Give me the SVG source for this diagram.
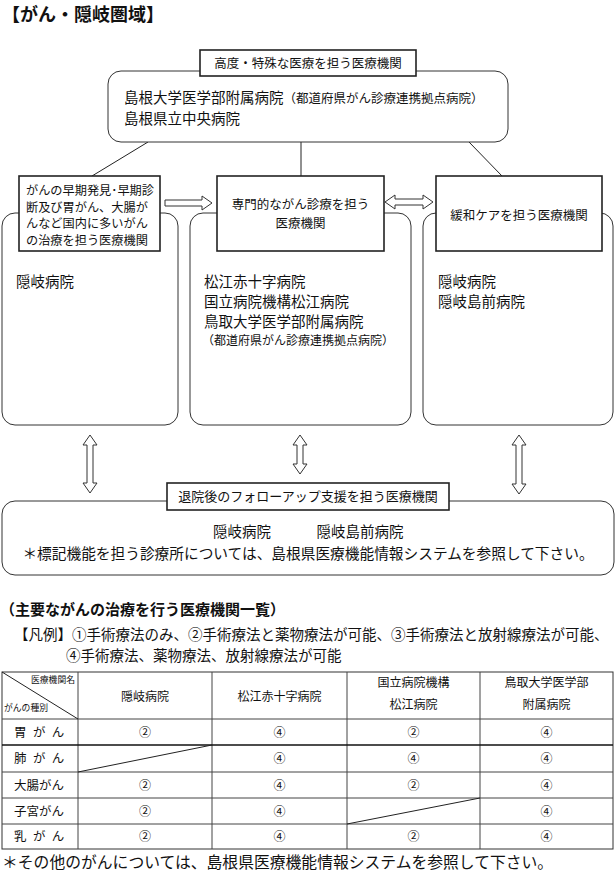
<svg xmlns="http://www.w3.org/2000/svg" width="616" height="872" viewBox="0 0 616 872">
<style>
text{font-family:"Noto Sans CJK JP","Noto Sans CJK SC",sans-serif;fill:#111}
.rr{fill:#fff;stroke:#333;stroke-width:1}
.lb{fill:#fff;stroke:#222;stroke-width:1.6}
.ln{stroke:#222;stroke-width:1;fill:none}
.ar{fill:#fff;stroke:#333;stroke-width:1}
.t14{font-size:14.5px}
.t12{font-size:12.5px}
.tb{font-size:12.2px}
.tc{font-size:12px;text-anchor:middle}
.tl{stroke:#444;stroke-width:1;fill:none}
</style>
<rect width="616" height="872" fill="#fff"/>
<text x="2" y="21" style="font-size:18px;font-weight:bold">【がん・隠岐圏域】</text>

<g id="connectors">
<line class="ln" x1="148" y1="142" x2="92" y2="176"/>
<line class="ln" x1="301" y1="142" x2="301" y2="176"/>
<line class="ln" x1="469" y1="142" x2="502" y2="176"/>
<polygon class="ar" points="165,200 202,200 202,196 212,203 202,210 202,206 165,206"/>
<polygon class="ar" points="385,202 395,195 395,199 423,199 423,195 433,202 423,209 423,205 395,205 395,209"/>
<polygon class="ar" points="90,435 97,445 93,445 93,483 97,483 90,493 83,483 87,483 87,445 83,445"/>
<polygon class="ar" points="300,435 307,445 303,445 303,464 307,464 300,474 293,464 297,464 297,445 293,445"/>
<polygon class="ar" points="519,435 526,445 522,445 522,484 526,484 519,494 512,484 516,484 516,445 512,445"/>
</g>

<g id="node-top">
<rect class="rr" x="108" y="71" width="400" height="71" rx="13"/>
<rect class="lb" x="200" y="50" width="216" height="26"/>
<text x="308" y="67.5" class="t12" text-anchor="middle">高度・特殊な医療を担う医療機関</text>
<text x="124" y="103" class="t14">島根大学医学部附属病院<tspan style="font-size:12.5px">（都道府県がん診療連携拠点病院）</tspan></text>
<text x="124" y="124" class="t14">島根県立中央病院</text>
</g>

<g id="node-left">
<rect class="rr" x="2" y="213" width="176" height="212" rx="13"/>
<rect class="lb" x="19" y="176" width="141" height="75"/>
<text x="26" y="195" class="tb">がんの早期発見･早期診</text>
<text x="26" y="211.5" class="tb">断及び胃がん、大腸が</text>
<text x="26" y="228" class="tb">んなど国内に多いがん</text>
<text x="26" y="244.5" class="tb">の治療を担う医療機関</text>
<text x="16" y="287" class="t14">隠岐病院</text>
</g>

<g id="node-center">
<rect class="rr" x="190" y="213" width="221" height="212" rx="13"/>
<rect class="lb" x="217" y="176" width="167" height="75"/>
<text x="300.5" y="209" class="t12" text-anchor="middle">専門的ながん診療を担う</text>
<text x="300.5" y="227.5" class="t12" text-anchor="middle">医療機関</text>
<text x="204" y="287" class="t14">松江赤十字病院</text>
<text x="204" y="307" class="t14">国立病院機構松江病院</text>
<text x="204" y="327" class="t14">鳥取大学医学部附属病院</text>
<text x="202" y="345" style="font-size:12px">（都道府県がん診療連携拠点病院）</text>
</g>

<g id="node-right">
<rect class="rr" x="423" y="213" width="190" height="212" rx="13"/>
<rect class="lb" x="436" y="176" width="166" height="75"/>
<text x="519" y="219.5" class="t12" text-anchor="middle">緩和ケアを担う医療機関</text>
<text x="438" y="287" class="t14">隠岐病院</text>
<text x="438" y="307" class="t14">隠岐島前病院</text>
</g>

<g id="node-bottom">
<rect class="rr" x="2" y="501" width="612" height="74" rx="13"/>
<rect class="lb" x="167" y="483" width="282" height="27"/>
<text x="308" y="501" style="font-size:13px" text-anchor="middle">退院後のフォローアップ支援を担う医療機関</text>
<text x="242" y="537" class="t14" text-anchor="middle">隠岐病院</text>
<text x="360" y="537" class="t14" text-anchor="middle">隠岐島前病院</text>
<text x="308" y="559" style="font-size:14.7px" text-anchor="middle">＊標記機能を担う診療所については、島根県医療機能情報システムを参照して下さい。</text>
</g>

<g id="legend">
<text x="0" y="615" style="font-size:15px;font-weight:bold">（主要ながんの治療を行う医療機関一覧）</text>
<text x="14" y="640" style="font-size:14.5px">【凡例】①手術療法のみ、②手術療法と薬物療法が可能、③手術療法と放射線療法が可能、</text>
<text x="66" y="661" style="font-size:14.5px">④手術療法、薬物療法、放射線療法が可能</text>
</g>

<g id="table">
<rect x="2" y="672" width="611" height="177" fill="#fff" stroke="#333" stroke-width="1"/>
<line class="tl" x1="78" y1="672" x2="78" y2="849"/>
<line class="tl" x1="212" y1="672" x2="212" y2="849"/>
<line class="tl" x1="347" y1="672" x2="347" y2="849"/>
<line class="tl" x1="480" y1="672" x2="480" y2="849"/>
<line class="tl" x1="2" y1="719" x2="613" y2="719"/>
<line x1="2" y1="745" x2="613" y2="745" stroke="#111" stroke-width="1.4"/>
<line class="tl" x1="2" y1="772" x2="613" y2="772"/>
<line class="tl" x1="2" y1="798" x2="613" y2="798"/>
<line class="tl" x1="2" y1="824" x2="613" y2="824"/>
<line x1="2" y1="672" x2="78" y2="719" stroke="#222" stroke-width="1"/>
<line x1="78" y1="772" x2="212" y2="745" stroke="#222" stroke-width="1"/>
<line x1="347" y1="824" x2="480" y2="798" stroke="#222" stroke-width="1"/>
<text x="75" y="683" style="font-size:8.8px" text-anchor="end">医療機関名</text>
<text x="4" y="711" style="font-size:8.8px">がんの種別</text>
<text x="145" y="701" class="tc">隠岐病院</text>
<text x="279.5" y="701" class="tc">松江赤十字病院</text>
<text x="413.5" y="687" class="tc">国立病院機構</text>
<text x="413.5" y="708.5" class="tc">松江病院</text>
<text x="546.5" y="687" class="tc">鳥取大学医学部</text>
<text x="546.5" y="708.5" class="tc">附属病院</text>
<text x="14" y="737" style="font-size:12.5px;word-spacing:3.6px">胃 が ん</text>
<text x="14" y="763" style="font-size:12.5px;word-spacing:3.6px">肺 が ん</text>
<text x="14" y="789.5" style="font-size:12.5px">大腸がん</text>
<text x="14" y="815.5" style="font-size:12.5px">子宮がん</text>
<text x="14" y="841" style="font-size:12.5px;word-spacing:3.6px">乳 が ん</text>
<text x="145" y="737" class="tc">②</text><text x="279.5" y="737" class="tc">④</text><text x="413.5" y="737" class="tc">②</text><text x="546.5" y="737" class="tc">④</text>
<text x="279.5" y="763" class="tc">④</text><text x="413.5" y="763" class="tc">④</text><text x="546.5" y="763" class="tc">④</text>
<text x="145" y="789.5" class="tc">②</text><text x="279.5" y="789.5" class="tc">④</text><text x="413.5" y="789.5" class="tc">②</text><text x="546.5" y="789.5" class="tc">④</text>
<text x="145" y="815.5" class="tc">②</text><text x="279.5" y="815.5" class="tc">④</text><text x="546.5" y="815.5" class="tc">④</text>
<text x="145" y="841" class="tc">②</text><text x="279.5" y="841" class="tc">④</text><text x="413.5" y="841" class="tc">②</text><text x="546.5" y="841" class="tc">④</text>
</g>
<text x="2" y="868" style="font-size:15.8px">＊その他のがんについては、島根県医療機能情報システムを参照して下さい。</text>
</svg>
